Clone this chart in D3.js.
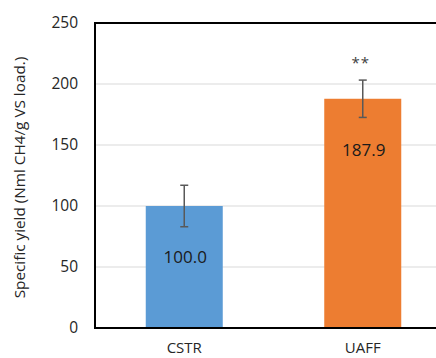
<!DOCTYPE html>
<html>
<head>
<meta charset="utf-8">
<script src="https://cdn.jsdelivr.net/npm/d3@7"></script>
<style>
  html, body { margin: 0; padding: 0; background: #fff; }
  svg { display: block; font-family: "Open Sans", "Noto Sans", sans-serif; }
</style>
</head>
<body>
<svg id="chart" width="436" height="358"></svg>
<script>
// Methane specific yield per reactor type
const categories = ["CSTR", "UAFF"];
const yieldValues = [100.0, 187.9];
const errorValues = [17.0, 15.3];
const significance = ["", "**"];
const barColors = ["#5B9BD5", "#ED7D31"];
const yTicks = [0, 50, 100, 150, 200, 250];
const yTitle = "Specific yield (Nml CH4/g VS load.)";

const svg = d3.select("#chart");
const W = 436, H = 358;
const margin = { left: 95, top: 23 };
const plotBottom = 328;

const x = d3.scaleBand()
  .domain(categories)
  .range([margin.left, margin.left + 2 * 178.5])
  .paddingInner(0.54)
  .paddingOuter(0.27);

const y = d3.scaleLinear().domain([0, 250]).range([plotBottom, margin.top]);

// horizontal gridlines
svg.append("g")
  .selectAll("line")
  .data(yTicks.filter(d => d > 0 && d < 250))
  .join("line")
  .attr("x1", margin.left).attr("x2", W + 10)
  .attr("y1", d => y(d)).attr("y2", d => y(d))
  .attr("stroke", "#d9d9d9").attr("stroke-width", 1);

// bars
const bw = 77;
svg.append("g")
  .selectAll("rect")
  .data(categories)
  .join("rect")
  .attr("x", (d) => x(d) + x.bandwidth() / 2 - bw / 2)
  .attr("width", bw)
  .attr("y", (d, i) => y(yieldValues[i]))
  .attr("height", (d, i) => y(0) - y(yieldValues[i]))
  .attr("fill", (d, i) => barColors[i]);

// error bars
const eg = svg.append("g").attr("stroke", "#595959").attr("stroke-width", 1.5);
categories.forEach((c, i) => {
  const cx = x(c) + x.bandwidth() / 2;
  const hi = y(yieldValues[i] + errorValues[i]);
  const lo = y(yieldValues[i] - errorValues[i]);
  eg.append("line").attr("x1", cx).attr("x2", cx).attr("y1", hi).attr("y2", lo);
  eg.append("line").attr("x1", cx - 4).attr("x2", cx + 4).attr("y1", hi).attr("y2", hi);
  eg.append("line").attr("x1", cx - 4).attr("x2", cx + 4).attr("y1", lo).attr("y2", lo);
});

// value labels inside bars, placed below the bar top
svg.append("g")
  .selectAll("text")
  .data(categories)
  .join("text")
  .attr("x", d => x(d) + x.bandwidth() / 2 + 1)
  .attr("y", (d, i) => y(yieldValues[i]) + 57)
  .attr("text-anchor", "middle")
  .attr("font-size", 17)
  .attr("fill", "#1a1a1a")
  .text((d, i) => yieldValues[i].toFixed(1));

// significance marks
svg.append("g")
  .selectAll("text")
  .data(categories)
  .join("text")
  .attr("x", d => x(d) + x.bandwidth() / 2 - 2)
  .attr("y", 68)
  .attr("text-anchor", "middle")
  .attr("font-size", 15)
  .attr("letter-spacing", 1)
  .attr("fill", "#404040")
  .text((d, i) => significance[i]);

// frame: left, top and bottom edges
svg.append("path")
  .attr("d", `M${W + 10},${margin.top}H${margin.left}V${plotBottom}H${W + 10}`)
  .attr("fill", "none").attr("stroke", "#000").attr("stroke-width", 2);

// y axis tick labels
const yAxis = d3.axisLeft(y).tickValues(yTicks).tickSize(0).tickPadding(17);
const ya = svg.append("g").attr("transform", `translate(${margin.left},0)`).call(yAxis);
ya.select(".domain").remove();
ya.selectAll("text").attr("font-size", 15.5).attr("fill", "#262626")
  .attr("font-family", "Open Sans, Noto Sans, sans-serif");

// x axis category labels
const xAxis = d3.axisBottom(x).tickSize(0).tickPadding(14);
const xa = svg.append("g").attr("transform", `translate(0,${plotBottom})`).call(xAxis);
xa.select(".domain").remove();
xa.selectAll("text").attr("font-size", 15).attr("fill", "#262626")
  .attr("font-family", "Open Sans, Noto Sans, sans-serif");

// y axis title
svg.append("text")
  .attr("transform", `translate(25,${(52 + 303) / 2}) rotate(-90)`)
  .attr("text-anchor", "middle")
  .attr("font-size", 15.3)
  .attr("fill", "#262626")
  .text(yTitle);
</script>
</body>
</html>
